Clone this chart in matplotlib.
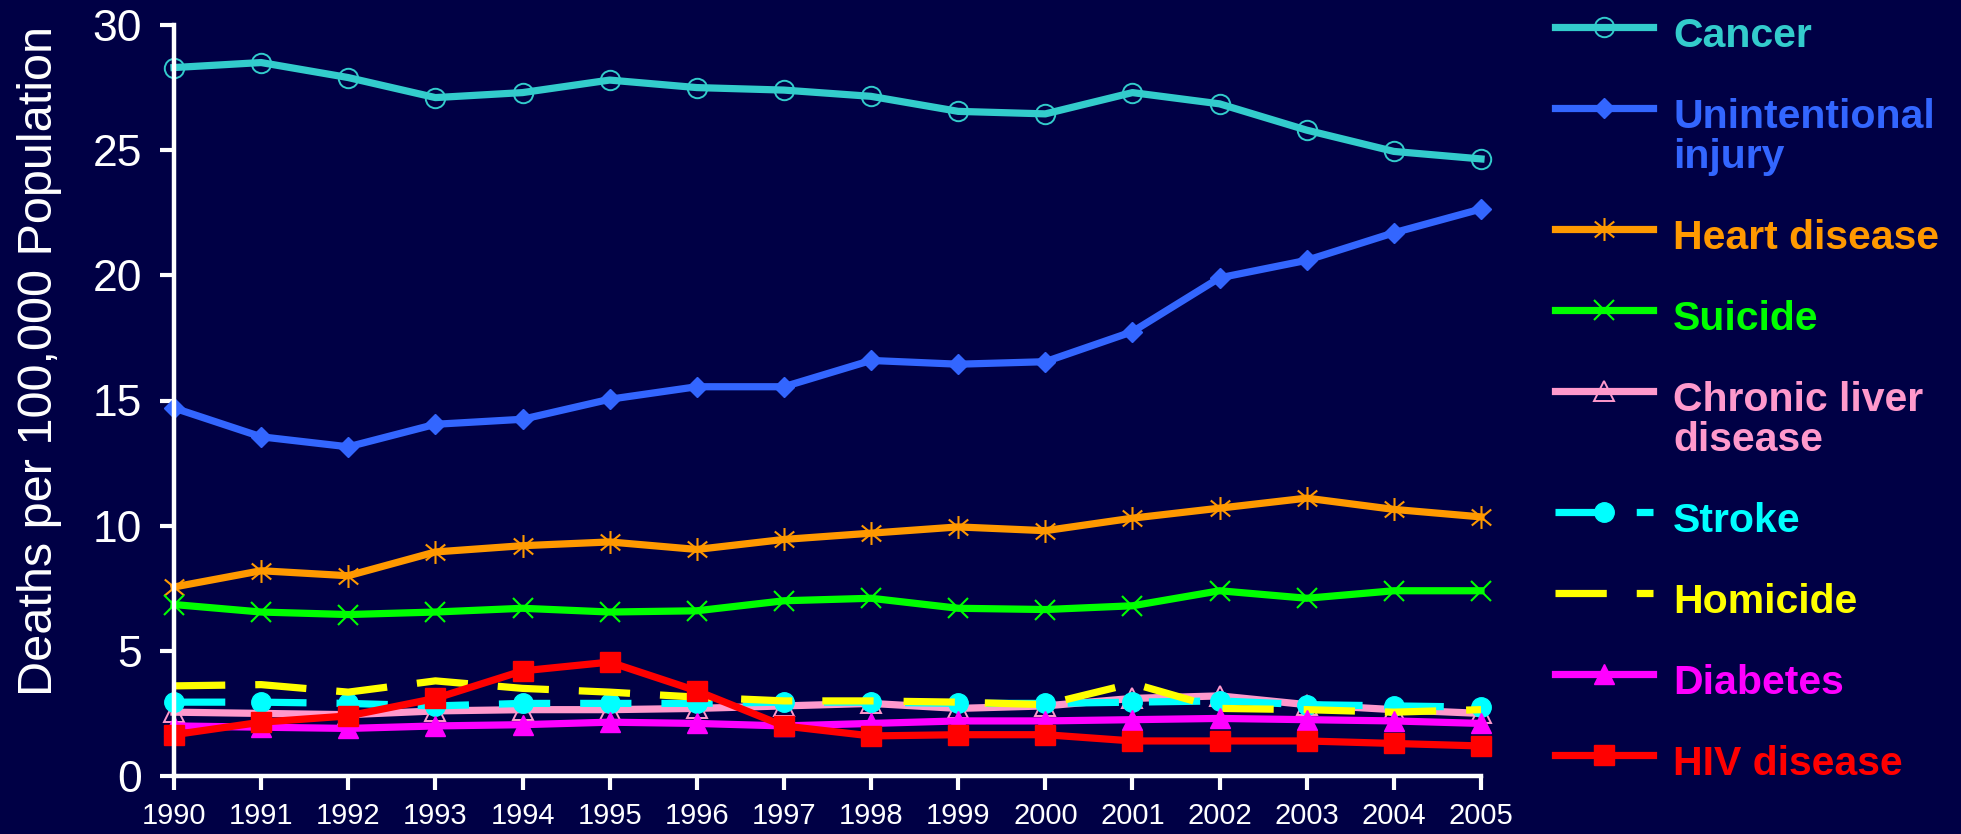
import matplotlib
matplotlib.use("Agg")
import matplotlib.pyplot as plt
from matplotlib.lines import Line2D
from matplotlib.path import Path

plt.rcParams['font.family'] = ['Liberation Sans', 'DejaVu Sans']

# data
years = list(range(1990, 2006))
cancer = [28.3, 28.5, 27.9, 27.1, 27.3, 27.8, 27.5, 27.4, 27.15, 26.55, 26.45, 27.3, 26.85, 25.8, 24.95, 24.65]
injury = [14.7, 13.55, 13.15, 14.05, 14.25, 15.05, 15.55, 15.55, 16.6, 16.45, 16.55, 17.75, 19.9, 20.6, 21.7, 22.65]
heart = [7.55, 8.2, 8.0, 8.95, 9.2, 9.35, 9.05, 9.45, 9.7, 9.95, 9.8, 10.3, 10.7, 11.1, 10.65, 10.35]
suicide = [6.85, 6.55, 6.45, 6.55, 6.7, 6.55, 6.6, 7.0, 7.1, 6.7, 6.65, 6.8, 7.4, 7.1, 7.4, 7.4]
liver = [2.55, 2.5, 2.45, 2.6, 2.65, 2.65, 2.7, 2.8, 2.9, 2.7, 2.8, 3.1, 3.2, 2.85, 2.65, 2.5]
stroke = [2.95, 2.95, 2.9, 2.8, 2.9, 2.9, 2.9, 2.95, 2.95, 2.9, 2.9, 2.95, 3.0, 2.85, 2.8, 2.75]
homicide = [3.6, 3.65, 3.35, 3.8, 3.5, 3.35, 3.15, 3.0, 3.0, 2.95, 2.85, 3.7, 2.7, 2.65, 2.55, 2.65]
diabetes = [2.0, 1.95, 1.9, 2.0, 2.05, 2.15, 2.1, 2.0, 2.1, 2.2, 2.2, 2.25, 2.3, 2.25, 2.2, 2.1]
hiv = [1.65, 2.15, 2.4, 3.1, 4.2, 4.55, 3.4, 2.0, 1.6, 1.65, 1.65, 1.4, 1.4, 1.4, 1.3, 1.2]

bg = '#000045'
W, H = 1961, 834
LW = 5.2

# asterisk marker (vertical bar + x)
star = Path([(0, -1), (0, 1), (-0.85, -0.7), (0.85, 0.7), (-0.85, 0.7), (0.85, -0.7)],
            [Path.MOVETO, Path.LINETO] * 3)

dash = (7.1, 4.15)
series = [
    # label, values, color, marker options, line style
    (["Cancer"], cancer, '#33CCCC', dict(marker='o', ms=14, mfc='none', mew=1.4), '-'),
    (["Unintentional", "injury"], injury, '#3366FF', dict(marker='D', ms=10.5), '-'),
    (["Heart disease"], heart, '#FF9900', dict(marker=star, ms=16.5, mew=1.5), '-'),
    (["Suicide"], suicide, '#00FF00', dict(marker='x', ms=15, mew=1.5), '-'),
    (["Chronic liver", "disease"], liver, '#FF99CC', dict(marker='^', ms=15, mfc='none', mew=1.4), '-'),
    (["Stroke"], stroke, '#00FFFF', dict(marker='o', ms=14), dash),
    (["Homicide"], homicide, '#FFFF00', dict(marker=None), dash),
    (["Diabetes"], diabetes, '#FF00FF', dict(marker='^', ms=15), '-'),
    (["HIV disease"], hiv, '#FF0000', dict(marker='s', ms=14), '-'),
]

fig = plt.figure(figsize=(W / 100, H / 100), dpi=100, facecolor=bg)
ax = fig.add_axes([174 / W, 1 - 776 / H, (1481 - 174) / W, (776 - 25) / H])
ax.set_facecolor(bg)

for label, vals, col, mk, ls in series:
    kw = dict(color=col, lw=LW, clip_on=False, **mk)
    if ls == '-':
        ax.plot(years, vals, ls='-', **kw)
    else:
        ax.plot(years, vals, ls=(0, ls), **kw)

ax.set_xlim(1990, 2005)
ax.set_ylim(0, 30)
ax.set_xticks(years)
ax.set_yticks(range(0, 31, 5))
for s in ['top', 'right']:
    ax.spines[s].set_visible(False)
for s in ['left', 'bottom']:
    ax.spines[s].set_color('white')
    ax.spines[s].set_linewidth(3.2)
ax.tick_params(axis='both', colors='white', direction='out', length=10, width=3)
ax.tick_params(axis='y', labelsize=32, pad=13)
ax.tick_params(axis='x', labelsize=21, pad=9)

ax.set_ylabel("Deaths per 100,000 Population", color='white', fontsize=35)
ax.yaxis.set_label_coords(-0.0855, 0.553)

# legend on the right, drawn by hand so two-line labels keep the handle on line one
x0, x1, xt = 1555, 1653, 1673
y = 27
for label, vals, col, mk, ls in series:
    yf = 1 - y / H
    ln = Line2D([x0 / W, (x0 + x1) / 2 / W, x1 / W], [yf, yf, yf], transform=fig.transFigure,
                color=col, lw=LW, ls='-' if ls == '-' else (0, ls), markevery=[1], **mk)
    fig.add_artist(ln)
    for k, line in enumerate(label):
        fig.text(xt / W, 1 - (y + 20 + 40 * k) / H, line, color=col, fontsize=29.5,
                 fontweight='bold', va='baseline', ha='left')
    y += 81 + 40 * (len(label) - 1)

fig.savefig("out.png", dpi=100, facecolor=bg)
